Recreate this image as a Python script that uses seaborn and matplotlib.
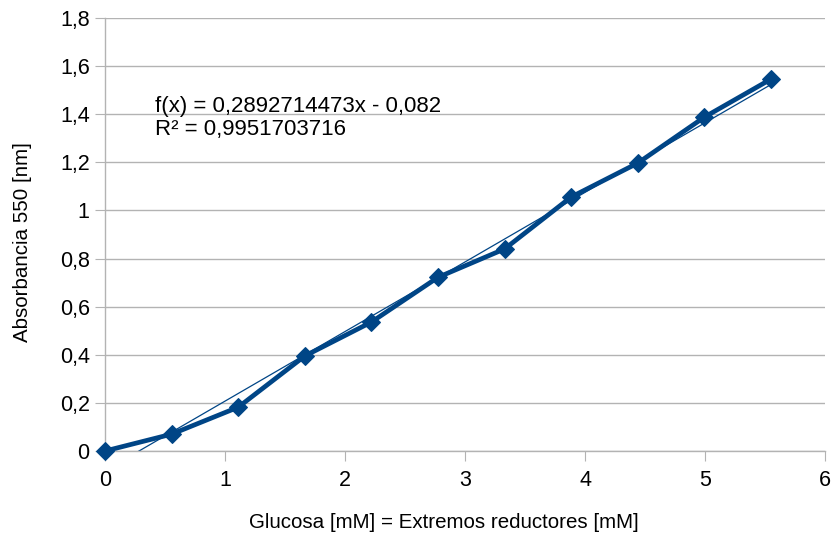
import numpy as np
import pandas as pd
import seaborn as sns
import matplotlib
matplotlib.use("Agg")
import matplotlib.pyplot as plt
from matplotlib.ticker import FuncFormatter, MultipleLocator

glucosa = [0, 0.555, 1.11, 1.665, 2.22, 2.775, 3.33, 3.885, 4.44, 4.995, 5.55]
absorbancia = [0, 0.07, 0.182, 0.395, 0.536, 0.722, 0.84, 1.056, 1.197, 1.388, 1.546]
slope = 0.2892714473
intercept = -0.082
eq_text = "f(x) = 0,2892714473x - 0,082\nR² = 0,9951703716"

sns.set_style("white")
plt.rcParams['font.family'] = ['Liberation Sans', 'DejaVu Sans']
plt.rcParams['text.color'] = 'black'
plt.rcParams['axes.labelcolor'] = 'black'
plt.rcParams['xtick.labelcolor'] = 'black'
plt.rcParams['ytick.labelcolor'] = 'black'

df = pd.DataFrame({"x": glucosa, "y": absorbancia})
fig = plt.figure(figsize=(8.34, 5.36), dpi=100)
ax = fig.add_axes([105/834, 1 - 451/536, 720/834, 433/536])

color = "#004586"
sns.lineplot(data=df, x="x", y="y", ax=ax, color=color, linewidth=3.4,
             marker="D", markersize=9.5, markeredgecolor=color, zorder=3, clip_on=False)
xt = np.array([0, max(glucosa)])
ax.plot(xt, slope * xt + intercept, color=color, linewidth=0.9, zorder=2)

ax.set_xlim(0, 6)
ax.set_ylim(0, 1.8)
ax.xaxis.set_major_locator(MultipleLocator(1))
ax.yaxis.set_major_locator(MultipleLocator(0.2))
fmt = FuncFormatter(lambda v, p: (f"{v:.1f}".rstrip('0').rstrip('.')).replace('.', ','))
ax.xaxis.set_major_formatter(FuncFormatter(lambda v, p: f"{int(round(v))}"))
ax.yaxis.set_major_formatter(fmt)
ax.grid(axis='y', color='#b3b3b3', linewidth=1)
ax.grid(axis='x', visible=False)
for s in ['top', 'right']:
    ax.spines[s].set_visible(False)
for s in ['left', 'bottom']:
    ax.spines[s].set_color('#b3b3b3')
    ax.spines[s].set_linewidth(1)
ax.tick_params(axis='both', which='major', labelsize=15.5, length=7, color='#b3b3b3',
               labelcolor='black', direction='out', bottom=True, left=True)
ax.tick_params(axis='x', pad=7)
ax.tick_params(axis='y', pad=4)
ax.set_xlabel("Glucosa [mM] = Extremos reductores [mM]", fontsize=14.8, color='black')
ax.set_ylabel("Absorbancia 550 [nm]", fontsize=14.8, color='black')
ax.xaxis.set_label_coords((443.5 - 105) / 720, -(522 - 451) / 433)
ax.yaxis.set_label_coords(-(105 - 23) / 720, (451 - 242.5) / 433)
ax.xaxis.label.set_va('center')
ax.yaxis.label.set_va('center')
ax.text(0.42, 1.385, eq_text, fontsize=16, va='center', ha='left', linespacing=1.15,
        color='black')

fig.savefig("out.png", dpi=100)
